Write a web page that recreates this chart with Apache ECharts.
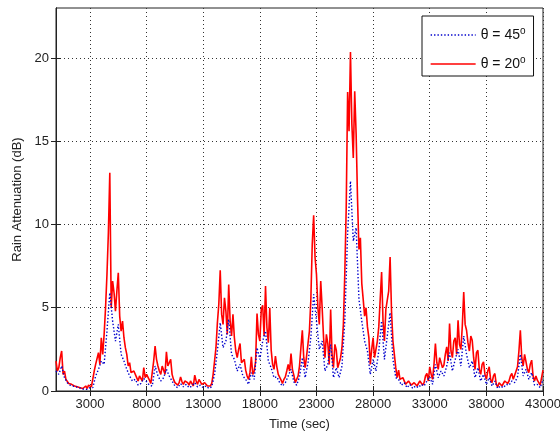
<!DOCTYPE html>
<html>
<head>
<meta charset="UTF-8">
<title>Rain Attenuation</title>
<script src="https://cdn.jsdelivr.net/npm/echarts@6/dist/echarts.min.js"></script>
<style>
  html, body { margin: 0; padding: 0; background: #fff; }
  #main { width: 560px; height: 432px; }
</style>
</head>
<body>
<div id="main"></div>
<script>
// sample spacing of each series (sec)
var step20 = 125;
var step45 = 250;

// attenuation at 20 deg elevation (dB), every 125 s
var att20 = [
  1.8, 1.2, 1.4, 2.0, 2.4, 1.0, 1.2, 0.7, 0.8, 0.45, 0.55, 0.4,
  0.5, 0.3, 0.35, 0.25, 0.35, 0.2, 0.25, 0.15, 0.2, 0.3, 0.15, 0.35,
  0.45, 0.25, 0.3, 1.2, 1.6, 1.5, 2.3, 1.6, 3.2, 2.2, 3.4, 5.0,
  7.0, 9.5, 13.1, 5.0, 6.6, 5.9, 4.8, 6.0, 7.1, 4.5, 3.6, 4.2,
  3.2, 2.6, 2.2, 1.5, 1.7, 1.1, 1.0, 1.2, 1.25, 0.8, 0.6, 0.9,
  0.85, 0.6, 1.4, 0.8, 1.0, 1.1, 0.65, 0.45, 0.5, 1.8, 2.7, 1.9,
  1.5, 1.2, 1.0, 1.5, 1.4, 1.0, 2.35, 1.5, 1.7, 1.9, 1.0, 0.7,
  0.5, 0.6, 0.35, 0.5, 0.85, 0.55, 0.4, 0.6, 0.7, 0.5, 0.35, 0.6,
  0.5, 0.3, 0.95, 0.6, 0.4, 0.7, 0.6, 0.4, 0.3, 0.5, 0.55, 0.3,
  0.2, 0.3, 0.45, 1.0, 1.8, 2.6, 4.1, 5.2, 7.25, 4.6, 4.0, 5.6,
  4.8, 3.4, 6.4, 4.2, 3.3, 4.6, 3.2, 2.4, 2.0, 2.5, 2.85, 1.7,
  1.6, 1.9, 1.25, 0.9, 0.7, 1.1, 2.05, 1.0, 1.2, 1.8, 4.65, 3.4,
  3.0, 4.9, 5.15, 3.3, 6.3, 3.8, 2.9, 5.0, 2.45, 1.6, 1.3, 2.1,
  1.45, 1.0, 0.9, 0.65, 0.45, 0.7, 0.85, 1.2, 1.6, 1.2, 2.25, 1.3,
  0.95, 0.5, 0.6, 0.9, 1.5, 2.6, 3.65, 2.0, 1.4, 2.1, 2.85, 3.6,
  5.45, 8.8, 10.55, 8.0, 7.0, 5.0, 4.0, 6.6, 5.0, 3.2, 2.0, 3.4,
  2.85, 1.6, 4.9, 2.2, 1.4, 2.8, 2.45, 1.4, 1.3, 2.0, 2.6, 4.0,
  7.05, 11.0, 17.95, 15.6, 20.35, 16.0, 14.0, 18.0, 15.45, 11.5, 8.5, 9.2,
  6.45, 5.5, 4.5, 5.0, 3.85, 3.2, 1.6, 2.5, 3.2, 2.0, 1.9, 3.0,
  3.85, 5.5, 7.15, 4.2, 3.0, 4.9, 5.45, 6.0, 8.05, 4.8, 3.0, 2.2,
  1.4, 0.8, 1.25, 0.7, 0.6, 0.8, 0.85, 0.4, 0.3, 0.6, 0.65, 0.35,
  0.25, 0.5, 0.55, 0.3, 0.3, 0.6, 0.65, 0.35, 0.5, 0.9, 1.05, 0.6,
  1.45, 1.0, 0.7, 1.6, 2.85, 1.7, 1.3, 2.0, 2.1, 1.4, 1.55, 2.2,
  2.65, 1.8, 4.05, 2.4, 2.0, 3.0, 3.2, 2.2, 4.25, 2.8, 2.5, 3.9,
  5.95, 4.0, 3.65, 2.9, 2.4, 3.3, 3.05, 2.0, 1.3, 2.3, 2.45, 1.3,
  1.0, 1.6, 1.75, 1.0, 0.7, 1.2, 1.45, 0.7, 0.5, 0.9, 1.05, 0.4,
  0.25, 0.5, 0.55, 0.3, 0.3, 0.6, 0.65, 0.45, 0.6, 0.9, 1.05, 0.7,
  0.8, 1.2, 1.45, 2.4, 3.65, 2.0, 1.5, 2.2, 2.25, 1.3, 1.1, 1.6,
  1.85, 0.9, 0.6, 0.9, 0.65, 0.5, 0.35, 0.8, 1.25
];

// attenuation at 45 deg elevation (dB), read every 250 s
var att45 = [
  1.2, 1.0, 1.5, 0.8, 0.5, 0.35, 0.3, 0.25, 0.2, 0.15, 0.1, 0.1,
  0.2, 0.2, 0.9, 1.3, 1.8, 1.6, 3.6, 5.9, 4.2, 3.0, 4.0, 2.2,
  1.8, 1.3, 0.9, 0.6, 0.7, 0.35, 0.45, 0.75, 0.55, 0.35, 0.3, 1.5,
  0.9, 0.6, 0.8, 1.3, 0.9, 0.6, 0.3, 0.2, 0.45, 0.25, 0.4, 0.2,
  0.3, 0.5, 0.25, 0.35, 0.2, 0.3, 0.15, 0.25, 1.0, 2.4, 4.1, 2.6,
  3.0, 4.3, 2.2, 1.9, 1.2, 1.6, 0.9, 0.7, 0.4, 1.1, 0.7, 2.6,
  1.9, 3.0, 3.6, 1.8, 1.4, 0.8, 0.85, 0.5, 0.3, 0.5, 0.9, 1.3,
  0.55, 0.35, 0.85, 2.0, 0.8, 1.7, 3.2, 5.8, 4.2, 2.5, 3.0, 1.2,
  1.6, 2.8, 0.8, 1.4, 0.8, 1.5, 4.2, 9.5, 12.6, 9.0, 9.8, 5.5,
  4.2, 3.0, 2.4, 1.0, 1.9, 1.2, 2.4, 4.2, 1.9, 3.3, 4.7, 1.9,
  0.8, 0.7, 0.35, 0.5, 0.2, 0.4, 0.15, 0.3, 0.2, 0.4, 0.3, 0.6,
  0.85, 0.4, 1.6, 0.8, 1.2, 0.9, 1.5, 2.3, 1.2, 1.9, 2.5, 1.5,
  3.3, 2.2, 1.4, 1.8, 0.8, 1.4, 0.6, 1.0, 0.4, 0.8, 0.3, 0.6,
  0.15, 0.3, 0.2, 0.4, 0.35, 0.6, 0.5, 0.85, 2.2, 0.9, 1.3, 0.7,
  1.1, 0.35, 0.4, 0.2, 0.7
];

var xTicks = [3000, 8000, 13000, 18000, 23000, 28000, 33000, 38000, 43000];
var yTicks = [0, 5, 10, 15, 20];

function pairs(vals, step) {
  var out = [];
  for (var i = 0; i < vals.length; i++) {
    out.push([i * step, vals[i]]);
  }
  return out;
}

var font = 'Arial, "Liberation Sans", Helvetica, sans-serif';
var gridDots = { color: '#333', width: 1, type: [1, 3] };
var ink = '#222';

var myChart = echarts.init(document.getElementById('main'));
var option = {
  backgroundColor: '#fff',
  animation: false,
  grid: {
    left: 56, top: 8, width: 487, height: 383,
    outerBoundsMode: 'none',
    show: true, borderColor: ink, borderWidth: 1, backgroundColor: '#fff'
  },
  legend: {
    orient: 'vertical',
    left: 422, top: 16,
    padding: [10, 8, 5, 8],
    itemWidth: 45, itemHeight: 14, itemGap: 13,
    borderColor: '#111', borderWidth: 1, backgroundColor: '#fff',
    itemStyle: { opacity: 0 },
    lineStyle: { width: 1.3 },
    data: ['45', '20'],
    formatter: function (name) {
      return '{t|\u03b8 = ' + name + '}{s|o}';
    },
    textStyle: {
      fontFamily: font, color: '#111',
      rich: {
        t: { fontSize: 14, fontFamily: font, color: '#111', lineHeight: 18 },
        s: { fontSize: 10, fontFamily: font, color: '#111', verticalAlign: 'top', lineHeight: 12 }
      }
    }
  },
  xAxis: [{
    type: 'value', min: 0, max: 43000, position: 'bottom',
    name: 'Time (sec)', nameLocation: 'middle', nameGap: 27,
    nameTextStyle: { fontFamily: font, fontSize: 13, color: ink },
    axisLine: { show: true, lineStyle: { color: ink } },
    axisTick: { inside: true, length: 5, customValues: xTicks, lineStyle: { color: ink } },
    axisLabel: {
      customValues: xTicks, fontFamily: font, fontSize: 13, color: ink, margin: 7,
      formatter: function (v) { return String(v); }
    },
    splitLine: { show: true, lineStyle: gridDots }
  }, {
    type: 'value', min: 0, max: 43000, position: 'top',
    axisLine: { show: true, lineStyle: { color: ink } },
    axisTick: { inside: true, length: 5, customValues: xTicks, lineStyle: { color: ink } },
    axisLabel: { show: false },
    splitLine: { show: false }
  }],
  yAxis: [{
    type: 'value', min: 0, max: 23, position: 'left',
    name: 'Rain Attenuation (dB)', nameLocation: 'middle', nameGap: 21,
    nameTextStyle: { fontFamily: font, fontSize: 13, color: ink },
    axisLine: { show: true, lineStyle: { color: ink } },
    axisTick: { inside: true, length: 5, customValues: yTicks, lineStyle: { color: ink } },
    axisLabel: { customValues: yTicks, fontFamily: font, fontSize: 13, color: ink, margin: 7 },
    splitLine: { show: true, lineStyle: gridDots }
  }, {
    type: 'value', min: 0, max: 23, position: 'right',
    axisLine: { show: true, lineStyle: { color: ink } },
    axisTick: { inside: true, length: 5, customValues: yTicks, lineStyle: { color: ink } },
    axisLabel: { show: false },
    splitLine: { show: false }
  }],
  series: [{
    name: '45', type: 'line', data: pairs(att45, step45),
    symbol: 'none', z: 4,
    lineStyle: { color: '#0000cc', width: 1.4, type: [1.4, 2] },
    itemStyle: { color: '#0000cc' }
  }, {
    name: '20', type: 'line', data: pairs(att20, step20),
    symbol: 'none', z: 3,
    lineStyle: { color: '#ff0000', width: 1.6 },
    itemStyle: { color: '#ff0000' }
  }]
};
myChart.setOption(option);
</script>
</body>
</html>
